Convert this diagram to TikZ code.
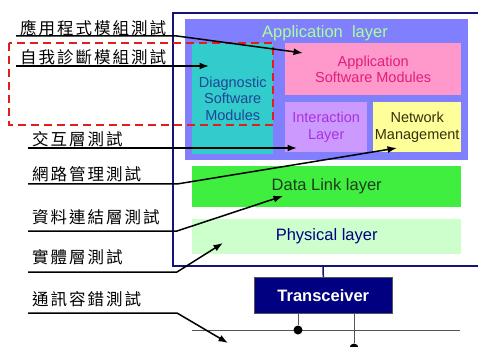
\documentclass[tikz,border=0pt]{standalone}
\usepackage{fontspec}
\setmainfont{Liberation Sans}
\newfontfamily\cjk[LetterSpace=12]{Noto Sans CJK TC}
\usetikzlibrary{arrows.meta}

\definecolor{frameblue}{RGB}{20,20,120}
\definecolor{applayer}{RGB}{128,128,255}
\definecolor{applayertext}{RGB}{170,255,150}
\definecolor{diagfill}{RGB}{51,204,204}
\definecolor{diagtext}{RGB}{30,70,150}
\definecolor{appfill}{RGB}{255,153,204}
\definecolor{apptext}{RGB}{225,30,120}
\definecolor{interfill}{RGB}{204,153,255}
\definecolor{intertext}{RGB}{170,50,220}
\definecolor{netfill}{RGB}{255,255,153}
\definecolor{nettext}{RGB}{50,50,10}
\definecolor{linkfill}{RGB}{64,238,64}
\definecolor{linktext}{RGB}{30,60,30}
\definecolor{physfill}{RGB}{204,255,204}
\definecolor{phystext}{RGB}{0,0,128}
\definecolor{trxfill}{RGB}{0,0,128}
\definecolor{dashred}{RGB}{225,30,30}
\definecolor{busgray}{RGB}{85,85,85}

\tikzset{
  layerbox/.style={anchor=north west, inner sep=0pt, align=center},
  modtext/.style={font=\fontsize{14.5}{16.5}\selectfont},
  bigtext/.style={font=\fontsize{16.5}{18}\selectfont},
  testlabel/.style={font=\cjk\fontsize{16.5}{18}\selectfont, anchor=base west, inner sep=0pt},
  testarrow/.style={-{Latex[length=9.5pt,width=7pt]}, line width=1.5pt},
  busline/.style={busgray, line width=1pt},
  busdot/.style={circle, fill=black, inner sep=0pt, minimum size=9pt}
}

\begin{document}
\begin{tikzpicture}[x=1pt,y=-1pt]
\useasboundingbox (0,0) rectangle (478,347);

% protocol stack frame (open on the right)
\draw[frameblue, line width=1.5pt] (480,13) -- (173,13) -- (173,266) -- (480,266);

% application layer and its modules
\node[layerbox, fill=applayer, minimum width=283pt, minimum height=141pt] (app) at (185,19) {};
\node[anchor=base, inner sep=0pt, text=applayertext, bigtext] (apptitle) at (325,38) {Application\ \ layer};
\node[layerbox, fill=diagfill, text=diagtext, modtext, minimum width=81pt, minimum height=111pt] (diag) at (192,43) {Diagnostic\\Software\\Modules};
\node[layerbox, fill=appfill, text=apptext, modtext, minimum width=176pt, minimum height=52pt] (appsw) at (285,43) {Application\\Software Modules};
\node[layerbox, fill=interfill, text=intertext, modtext, minimum width=82pt, minimum height=50pt] (inter) at (285,102) {Interaction\\Layer};
\node[layerbox, fill=netfill, text=nettext, modtext, minimum width=88pt, minimum height=50pt] (net) at (373,102) {Network\\Management};

% lower layers
\node[layerbox, fill=linkfill, text=linktext, bigtext, minimum width=269pt, minimum height=41pt] (link) at (192,166) {Data Link layer};
\node[layerbox, fill=physfill, text=phystext, bigtext, minimum width=269pt, minimum height=35pt] (phys) at (192,219) {Physical layer};

% transceiver and bus
\node[layerbox, fill=trxfill, draw=busgray, line width=0.6pt, text=white, font=\bfseries\fontsize{16.5}{18}\selectfont, minimum width=138pt, minimum height=36pt] (trx) at (254,277) {Transceiver};
\coordinate (framebottom) at (323,266);
\draw[frameblue, line width=1.5pt] (framebottom) -- (trx.north);
\coordinate (busL) at (192,330);
\coordinate (busR) at (460,330);
\draw[busline] (busL) -- (busR);
\node[busdot] (dotA) at (298,330) {};
\node[busdot] (dotB) at (354,348) {};
\draw[busline] (dotA |- trx.south) -- (dotA);
\draw[busline] (dotB |- trx.south) -- (dotB);

% diagnostic scope
\draw[dashred, line width=2.2pt, dash pattern=on 8pt off 5pt] (9,43) rectangle (273,125);

% test labels
\node[testlabel] (t1) at (20,35) {應用程式模組測試};
\node[testlabel] (t2) at (20,64) {自我診斷模組測試};
\node[testlabel] (t3) at (32,146) {交互層測試};
\node[testlabel] (t4) at (32,181) {網路管理測試};
\node[testlabel] (t5) at (32,223) {資料連結層測試};
\node[testlabel] (t6) at (32,263) {實體層測試};
\node[testlabel] (t7) at (32,305) {通訊容錯測試};

% underline start points, bends and arrow tips
\coordinate (s1) at (16,36);  \coordinate (b1) at (177,36);  \coordinate (e1) at (303,53);
\coordinate (s2) at (16,66);  \coordinate (e2) at (209,66);
\coordinate (s3) at (28,148); \coordinate (e3) at (297,148);
\coordinate (s4) at (28,184); \coordinate (b4) at (177,184); \coordinate (e4) at (397,148);
\coordinate (s5) at (28,231); \coordinate (b5) at (177,231); \coordinate (e5) at (283,196);
\coordinate (s6) at (28,272); \coordinate (b6) at (177,272); \coordinate (e6) at (223,243);
\coordinate (s7) at (28,313); \coordinate (b7) at (177,313); \coordinate (e7) at (228,343);

\draw[testarrow] (s1) -- (b1) -- (e1);
\draw[testarrow] (s2) -- (e2);
\draw[testarrow] (s3) -- (e3);
\draw[testarrow] (s4) -- (b4) -- (e4);
\draw[testarrow] (s5) -- (b5) -- (e5);
\draw[testarrow] (s6) -- (b6) -- (e6);
\draw[testarrow] (s7) -- (b7) -- (e7);
\end{tikzpicture}
\end{document}
